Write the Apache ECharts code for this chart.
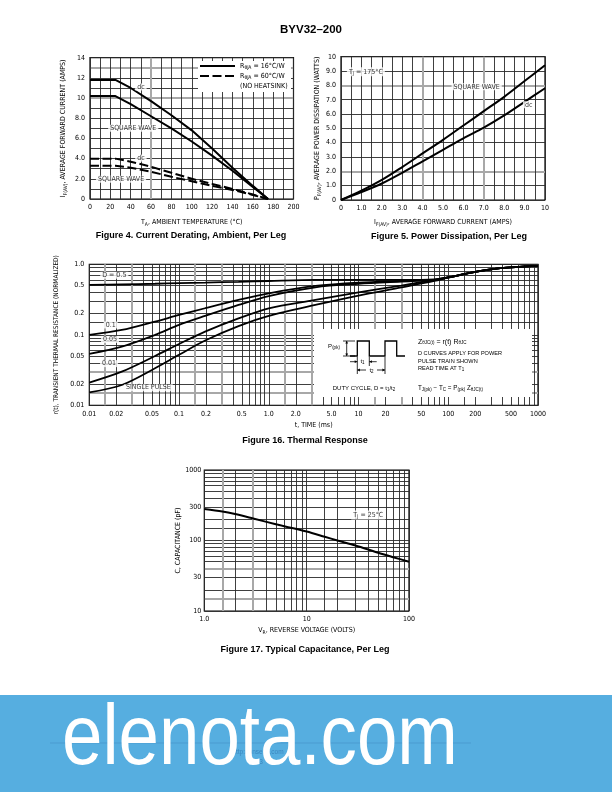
<!DOCTYPE html>
<html><head><meta charset="utf-8">
<script src="https://cdn.jsdelivr.net/npm/echarts@6/dist/echarts.min.js"></script>
<style>html,body{margin:0;padding:0;background:#fff;}#c{width:612px;height:792px;}</style>
</head><body><div id="c"></div>
<script>
// ---------------- DATA ----------------
// Figure 4: Current derating
const fig4Temp        = [0, 25, 40, 60, 80, 100, 120, 140, 160, 175];
const fig4DcHeatsink  = [11.8, 11.8, 11.0, 9.7, 8.3, 6.8, 5.0, 3.1, 1.3, 0];
const fig4SqHeatsink  = [10.2, 10.2, 9.4, 8.2, 7.0, 5.7, 4.3, 2.8, 1.2, 0];
const fig4DcNoSink    = [4.0, 4.0, 3.7, 3.2, 2.6, 2.0, 1.5, 1.0, 0.45, 0];
const fig4SqNoSink    = [3.3, 3.3, 3.1, 2.7, 2.2, 1.75, 1.3, 0.9, 0.4, 0];
const fig4XLabelVals  = [0, 20, 40, 60, 80, 100, 120, 140, 160, 180, 200];
const fig4XLabelText  = ['0','20','40','60','80','100','120','140','160','180','200'];
const fig4YLabelVals  = [0, 2, 4, 6, 8, 10, 12, 14];
const fig4YLabelText  = ['0','2.0','4.0','6.0','8.0','10','12','14'];

// Figure 5: Power dissipation
const fig5Current     = [0, 1, 2, 3, 4, 5, 6, 7, 8, 9, 10];
const fig5Square      = [0, 0.65, 1.4, 2.3, 3.25, 4.2, 5.2, 6.2, 7.2, 8.3, 9.4];
const fig5Dc          = [0, 0.55, 1.15, 1.9, 2.7, 3.5, 4.3, 5.05, 5.9, 6.85, 7.8];
const fig5LabelVals   = [0, 1, 2, 3, 4, 5, 6, 7, 8, 9, 10];
const fig5LabelText   = ['0','1.0','2.0','3.0','4.0','5.0','6.0','7.0','8.0','9.0','10'];

// Figure 16: Thermal response
const fig16Time       = [0.01, 0.023, 0.054, 0.1, 0.195, 0.46, 1.0, 3.3, 10, 30, 70, 100, 160, 380, 1000];
const fig16D05        = [0.51, 0.52, 0.53, 0.54, 0.55, 0.565, 0.58, 0.60, 0.60, 0.60, 0.61, 0.65, 0.74, 0.88, 0.95];
const fig16D01        = [0.0996, 0.117, 0.154, 0.191, 0.238, 0.312, 0.388, 0.493, 0.55, 0.58, 0.60, 0.65, 0.74, 0.88, 0.95];
const fig16D005       = [0.0536, 0.068, 0.0996, 0.138, 0.185, 0.265, 0.355, 0.472, 0.53, 0.57, 0.60, 0.65, 0.74, 0.88, 0.95];
const fig16D001       = [0.021, 0.030, 0.050, 0.074, 0.111, 0.171, 0.238, 0.312, 0.40, 0.50, 0.60, 0.65, 0.74, 0.88, 0.95];
const fig16Single     = [0.0152, 0.0194, 0.0335, 0.052, 0.083, 0.133, 0.185, 0.265, 0.36, 0.47, 0.58, 0.65, 0.74, 0.88, 0.95];
const fig16XLabelVals = [0.01, 0.02, 0.05, 0.1, 0.2, 0.5, 1, 2, 5, 10, 20, 50, 100, 200, 500, 1000];
const fig16XLabelText = ['0.01','0.02','0.05','0.1','0.2','0.5','1.0','2.0','5.0','10','20','50','100','200','500','1000'];
const fig16YLabelVals = [0.01, 0.02, 0.05, 0.1, 0.2, 0.5, 1];
const fig16YLabelText = ['0.01','0.02','0.05','0.1','0.2','0.5','1.0'];

// Figure 17: Capacitance
const fig17Voltage    = [1, 1.5, 2, 3, 5, 7, 10, 15, 20, 30, 50, 70, 100];
const fig17Cap        = [280, 258, 237, 205, 170, 152, 134, 113, 100, 85, 67, 58, 50];
const fig17XLabelVals = [1, 10, 100];
const fig17XLabelText = ['1.0','10','100'];
const fig17YLabelVals = [10, 30, 100, 300, 1000];
const fig17YLabelText = ['10','30','100','300','1000'];

// ---------------- HELPERS ----------------
const NARROW = "'Liberation Sans Narrow','DejaVu Sans Condensed','Liberation Sans',sans-serif";
const SANS = "'Liberation Sans',Arial,Helvetica,sans-serif";
const zip = (a, b) => a.map((v, i) => [v, b[i]]);
function lookup(vals, texts) {
  return function (v) {
    for (let i = 0; i < vals.length; i++) {
      if (Math.abs(v - vals[i]) <= Math.abs(vals[i]) * 1e-6 + 1e-9) return texts[i];
    }
    return '';
  };
}
function range(a, b, step) { const r = []; for (let v = a; v <= b + 1e-9; v += step) r.push(+v.toFixed(6)); return r; }
function logLines(e0, e1, mults) {
  const r = [];
  for (let e = e0; e <= e1; e++) for (const m of mults) {
    const v = +(m * Math.pow(10, e)).toPrecision(6);
    if (v <= Math.pow(10, e1) * 1.0000001) r.push(v);
  }
  return r;
}
const without = (a, b) => a.filter(v => !b.some(w => Math.abs(w - v) < Math.abs(v) * 1e-6 + 1e-9));

const DARK = '#2a2a2a', GREY = '#a8a8a8';
const subRich = {
  n: {fontFamily: NARROW, fontSize: 7, color: '#000'},
  s: {fontFamily: NARROW, fontSize: 5, color: '#000', padding: [4, 0, 0, 0]}
};
function mkAxis(o) {
  return {
    type: o.type, gridIndex: o.grid, min: o.min, max: o.max, logBase: 10,
    position: o.position,
    axisLine: {show: false},
    axisTick: {show: false, customValues: o.lines},
    axisLabel: o.labels ? {
      show: true, customValues: o.labels, formatter: lookup(o.labels, o.texts),
      fontFamily: NARROW, fontSize: 7, color: '#000', margin: o.margin || 5
    } : {show: false},
    splitLine: {show: true, lineStyle: {color: o.color || DARK, width: o.width || 0.9}},
    name: o.name || '', nameLocation: 'middle', nameGap: o.nameGap || 0, nameRotate: o.nameRotate,
    nameTextStyle: {rich: o.rich || subRich, fontFamily: NARROW, fontSize: 7, color: '#000'},
    z: o.z || 0
  };
}
function lineSeries(xi, x, y, extra) {
  return Object.assign({
    type: 'line', xAxisIndex: xi, yAxisIndex: xi, data: zip(x, y),
    symbol: 'none', showSymbol: false, silent: true, animation: false,
    lineStyle: {color: '#000', width: 2}
  }, extra || {});
}
function noteSeries(xi, items, fs) {
  return {
    type: 'scatter', xAxisIndex: xi, yAxisIndex: xi, symbolSize: 0, silent: true, animation: false, z: 4,
    data: items.map(it => ({value: [it[0], it[1]], label: {formatter: it[2]}})),
    label: {show: true, position: 'inside', color: '#000', fontFamily: NARROW, fontSize: fs || 7,
            backgroundColor: '#fff', padding: [0, 2], rich: subRich}
  };
}

// grid line sets
const f4xAll = range(0, 200, 10), f4xGrey = [60];
const f4yAll = range(0, 14, 1), f4yGrey = [10, 13];
const f5xAll = range(0, 10, 0.5), f5xGrey = [4, 7];
const f5yAll = range(0, 10, 1), f5yGrey = [2, 8];
const f16xAll = logLines(-2, 3, [1, 1.5, 2, 3, 4, 5, 6, 7, 8, 9]), f16xGrey = logLines(-2, 2, [1.5, 3]);
const f16yAll = logLines(-2, 0, [1, 1.5, 2, 3, 4, 5, 6, 7, 8, 9]), f16yGrey = logLines(-2, -1, [1.5, 3]);
const f17xAll = logLines(0, 2, [1, 1.5, 2, 3, 4, 5, 6, 7, 8, 9]), f17xGrey = logLines(0, 1, [1.5, 3]);
const f17yAll = logLines(1, 3, [1, 1.5, 2, 3, 4, 5, 6, 7, 8, 9]), f17yGrey = logLines(1, 2, [1.5, 4]);

const grids = [
  {left: 90, top: 57.7, width: 203.5, height: 141.3},
  {left: 341, top: 56.7, width: 204, height: 143.3},
  {left: 89.3, top: 264.3, width: 448.7, height: 141},
  {left: 204.3, top: 470, width: 204.7, height: 141}
].map(g => Object.assign(g, {show: true, borderColor: '#000', borderWidth: 1.2, backgroundColor: 'transparent'}));

const smallRich = {n: {fontFamily: NARROW, fontSize: 6.5, color: '#000'}};
const xAxes = [
  mkAxis({type: 'value', grid: 0, min: 0, max: 200, lines: without(f4xAll, f4xGrey), labels: fig4XLabelVals, texts: fig4XLabelText,
          name: '{n|T}{s|A}{n|, AMBIENT TEMPERATURE (°C)}', nameGap: 19}),
  mkAxis({type: 'value', grid: 1, min: 0, max: 10, lines: without(f5xAll, f5xGrey), labels: fig5LabelVals, texts: fig5LabelText,
          name: '{n|I}{s|F(AV)}{n|, AVERAGE FORWARD CURRENT (AMPS)}', nameGap: 18}),
  mkAxis({type: 'log', grid: 2, min: 0.01, max: 1000, lines: without(f16xAll, f16xGrey), labels: fig16XLabelVals, texts: fig16XLabelText,
          name: '{n|t, TIME (ms)}', nameGap: 16}),
  mkAxis({type: 'log', grid: 3, min: 1, max: 100, lines: without(f17xAll, f17xGrey), labels: fig17XLabelVals, texts: fig17XLabelText,
          name: '{n|V}{s|R}{n|, REVERSE VOLTAGE (VOLTS)}', nameGap: 15}),
  mkAxis({type: 'value', grid: 0, min: 0, max: 200, lines: f4xGrey, color: GREY, width: 2}),
  mkAxis({type: 'value', grid: 1, min: 0, max: 10, lines: f5xGrey, color: GREY, width: 2}),
  mkAxis({type: 'log', grid: 2, min: 0.01, max: 1000, lines: f16xGrey, color: GREY, width: 2}),
  mkAxis({type: 'log', grid: 3, min: 1, max: 100, lines: f17xGrey, color: GREY, width: 2})
];
const yAxes = [
  mkAxis({type: 'value', grid: 0, min: 0, max: 14, lines: without(f4yAll, f4yGrey), labels: fig4YLabelVals, texts: fig4YLabelText,
          name: '{n|I}{s|F(AV)}{n|, AVERAGE FORWARD CURRENT (AMPS)}', nameGap: 22}),
  mkAxis({type: 'value', grid: 1, min: 0, max: 10, lines: without(f5yAll, f5yGrey), labels: fig5LabelVals, texts: fig5LabelText,
          name: '{n|P}{s|F(AV)}{n|, AVERAGE POWER DISSIPATION (WATTS)}', nameGap: 18}),
  mkAxis({type: 'log', grid: 2, min: 0.01, max: 1, lines: without(f16yAll, f16yGrey), labels: fig16YLabelVals, texts: fig16YLabelText,
          name: '{n|r(t), TRANSIENT THERMAL RESISTANCE (NORMALIZED)}', nameGap: 23, rich: smallRich}),
  mkAxis({type: 'log', grid: 3, min: 10, max: 1000, lines: without(f17yAll, f17yGrey), labels: fig17YLabelVals, texts: fig17YLabelText,
          name: '{n|C, CAPACITANCE (pF)}', nameGap: 23, margin: 3}),
  mkAxis({type: 'value', grid: 0, min: 0, max: 14, lines: f4yGrey, color: GREY, width: 2}),
  mkAxis({type: 'value', grid: 1, min: 0, max: 10, lines: f5yGrey, color: GREY, width: 2}),
  mkAxis({type: 'log', grid: 2, min: 0.01, max: 1, lines: f16yGrey, color: GREY, width: 2}),
  mkAxis({type: 'log', grid: 3, min: 10, max: 1000, lines: f17yGrey, color: GREY, width: 2})
];

const DASH = [9, 3.5];
const series = [
  lineSeries(0, fig4Temp, fig4DcHeatsink),
  lineSeries(0, fig4Temp, fig4SqHeatsink),
  lineSeries(0, fig4Temp, fig4DcNoSink, {lineStyle: {color: '#000', width: 2, type: DASH}}),
  lineSeries(0, fig4Temp, fig4SqNoSink, {lineStyle: {color: '#000', width: 2, type: DASH}}),
  noteSeries(0, [[50, 11.1, 'dc'], [42.5, 7.0, 'SQUARE WAVE'], [50, 4.05, 'dc'], [30.5, 1.95, 'SQUARE WAVE']]),
  lineSeries(1, fig5Current, fig5Square, {smooth: 0.3}),
  lineSeries(1, fig5Current, fig5Dc, {smooth: 0.3}),
  noteSeries(1, [[1.22, 8.95, '{n|T}{s|J}{n| = 175°C}'], [6.65, 7.9, 'SQUARE WAVE'], [9.2, 6.65, 'dc']]),
  lineSeries(2, fig16Time, fig16D05, {smooth: 0.3, lineStyle: {color: '#000', width: 1.8}}),
  lineSeries(2, fig16Time, fig16D01, {smooth: 0.3, lineStyle: {color: '#000', width: 1.8}}),
  lineSeries(2, fig16Time, fig16D005, {smooth: 0.3, lineStyle: {color: '#000', width: 1.8}}),
  lineSeries(2, fig16Time, fig16D001, {smooth: 0.3, lineStyle: {color: '#000', width: 1.8}}),
  lineSeries(2, fig16Time, fig16Single, {smooth: 0.3, lineStyle: {color: '#000', width: 1.8}}),
  noteSeries(2, [[0.019, 0.70, 'D = 0.5'], [0.0173, 0.138, '0.1'], [0.017, 0.086, '0.05'], [0.0166, 0.039, '0.01'], [0.0455, 0.0178, 'SINGLE PULSE']]),
  lineSeries(3, fig17Voltage, fig17Cap, {smooth: 0.3}),
  noteSeries(3, [[40, 230, '{n|T}{s|J}{n| = 25°C}']])
];

// ---------------- STATIC TEXT / DECORATION ----------------
function txt(x, y, text, font, opts) {
  return Object.assign({
    type: 'text', x: x, y: y, z: 20,
    style: Object.assign({text: text, font: font, fill: '#000', textAlign: 'center', textVerticalAlign: 'middle',
                          align: 'center', verticalAlign: 'middle'}, (opts && opts.style) || {})
  }, (opts && opts.el) || {});
}
const insetRich = {s: {fontFamily: SANS, fontSize: 4.5, padding: [3, 0, 0, 0], fill: '#000'}};
const legendRich = {s: {fontFamily: NARROW, fontSize: 5, padding: [3, 0, 0, 0], fill: '#000'}};
const small = '5.6px ' + SANS;
function L(x1, y1, x2, y2, w) { return {type: 'line', z: 21, shape: {x1, y1, x2, y2}, style: {stroke: '#000', lineWidth: w || 0.8}}; }
function arrowHead(x, y, dir) {
  const s = 2.6, h = 1.4;
  let pts;
  if (dir === 'r') pts = [[x, y], [x - s, y - h], [x - s, y + h]];
  if (dir === 'l') pts = [[x, y], [x + s, y - h], [x + s, y + h]];
  if (dir === 'u') pts = [[x, y], [x - h, y + s], [x + h, y + s]];
  if (dir === 'd') pts = [[x, y], [x - h, y - s], [x + h, y - s]];
  return {type: 'polygon', z: 21, shape: {points: pts}, style: {fill: '#000'}};
}
const leftText = o => ({style: Object.assign({textAlign: 'left', align: 'left'}, o || {})});

const graphics = [
  txt(311, 30, 'BYV32–200', 'bold 11.5px ' + SANS),
  txt(191, 236, 'Figure 4. Current Derating, Ambient, Per Leg', 'bold 9px ' + SANS),
  txt(449, 237, 'Figure 5. Power Dissipation, Per Leg', 'bold 9px ' + SANS),
  txt(305, 441, 'Figure 16. Thermal Response', 'bold 9px ' + SANS),
  txt(305, 650, 'Figure 17. Typical Capacitance, Per Leg', 'bold 9px ' + SANS),
  // Figure 4 legend
  {type: 'rect', z: 15, shape: {x: 198, y: 61, width: 93, height: 31}, style: {fill: '#fff'}},
  L(200, 66, 235, 66, 2),
  {type: 'line', z: 21, shape: {x1: 200, y1: 76, x2: 235, y2: 76}, style: {stroke: '#000', lineWidth: 2, lineDash: DASH}},
  txt(240, 66, 'R{s|θJA} = 16°C/W', '7px ' + NARROW, leftText({rich: legendRich})),
  txt(240, 76, 'R{s|θJA} = 60°C/W', '7px ' + NARROW, leftText({rich: legendRich})),
  txt(240, 86, '(NO HEATSINK)', '7px ' + NARROW, leftText()),
  // Figure 16 inset
  {type: 'rect', z: 15, shape: {x: 314, y: 329, width: 218, height: 68}, style: {fill: '#fff'}},
  {type: 'polyline', z: 21, shape: {points: [[350, 356], [357.3, 356], [357.3, 341], [369.3, 341], [369.3, 356], [385, 356], [385, 341], [396.7, 341], [396.7, 356], [405, 356]]},
   style: {stroke: '#000', lineWidth: 1.3, fill: null}},
  txt(334, 346, 'P{s|(pk)}', '6px ' + SANS, {style: {rich: insetRich}}),
  L(346.7, 341, 346.7, 356), L(343, 341, 355, 341), L(343, 356, 355, 356),
  arrowHead(346.7, 341, 'u'), arrowHead(346.7, 356, 'd'),
  L(350, 361.7, 357.3, 361.7), arrowHead(357.3, 361.7, 'r'),
  txt(362.5, 361.7, 't{s|1}', '6px ' + SANS, {style: {rich: insetRich}}),
  L(376.7, 361.7, 369.3, 361.7), arrowHead(369.3, 361.7, 'l'),
  L(357.3, 357, 357.3, 374), L(369.3, 357, 369.3, 366), L(385, 357, 385, 374),
  L(357.3, 370, 366, 370), arrowHead(357.3, 370, 'l'),
  txt(371.5, 370, 't{s|2}', '6px ' + SANS, {style: {rich: insetRich}}),
  L(377, 370, 385, 370), arrowHead(385, 370, 'r'),
  txt(364, 388.3, 'DUTY CYCLE, D = t{s|1}/t{s|2}', '6px ' + SANS, {style: {rich: insetRich}}),
  txt(418, 341.7, 'Z{s|θJC(t)} = r(t) R{s|θJC}', '7px ' + SANS, leftText({rich: insetRich})),
  txt(418, 353.5, 'D CURVES APPLY FOR POWER', small, leftText()),
  txt(418, 361, 'PULSE TRAIN SHOWN', small, leftText()),
  txt(418, 368.5, 'READ TIME AT T{s|1}', small, leftText({rich: insetRich})),
  txt(418, 388.3, 'T{s|J(pk)} − T{s|C} = P{s|(pk)} Z{s|θJC(t)}', '6.3px ' + SANS, leftText({rich: insetRich})),
  // watermark band
  {type: 'rect', z: 50, shape: {x: 0, y: 695, width: 612, height: 97}, style: {fill: '#56AEE0'}},
  {type: 'line', z: 51, shape: {x1: 50, y1: 743, x2: 471, y2: 743}, style: {stroke: '#4A9BD0', lineWidth: 1}},
  txt(258, 752, 'http://onsemi.com', '6.5px ' + SANS, {el: {z: 51}, style: {fill: '#3B87BE'}}),
  txt(261, 762, '3', '6.5px ' + SANS, {el: {z: 51}, style: {fill: '#3B87BE'}}),
  txt(62, 740, 'elenota.com', '86px ' + SANS, {el: {z: 52, scaleX: 0.845}, style: {fill: '#ffffff', textAlign: 'left', align: 'left'}})
];

const chart = echarts.init(document.getElementById('c'), null, {renderer: 'canvas', width: 612, height: 792});
chart.setOption({
  animation: false,
  backgroundColor: '#fff',
  textStyle: {fontFamily: NARROW},
  grid: grids,
  xAxis: xAxes,
  yAxis: yAxes,
  series: series,
  graphic: {elements: graphics}
});
</script></body></html>
